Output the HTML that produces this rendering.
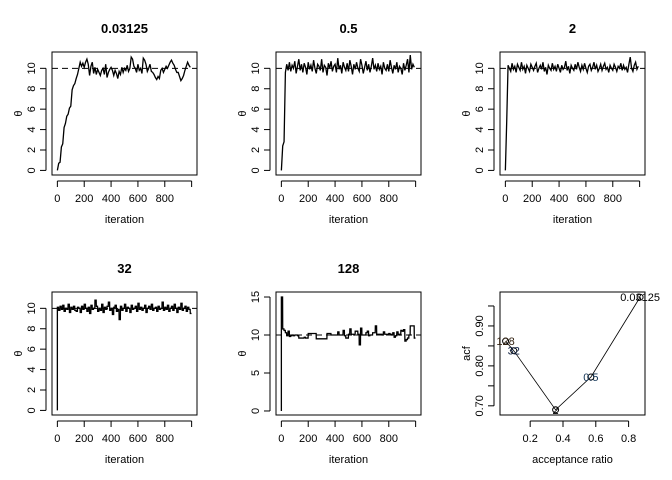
<!DOCTYPE html>
<html><head><meta charset="utf-8"><style>
html,body{margin:0;padding:0;background:#fff}
svg{display:block;font-family:"Liberation Sans",Arial,sans-serif}
</style></head><body>
<svg id="c" width="672" height="480" viewBox="0 0 672 480"></svg>
<script>
const trace1=[0,0.7,0.8,2.3,2.6,4.2,4.6,5.3,5.5,6.1,6.3,7.9,8.3,8.5,9.0,9.4,10.0,10.6,10.2,10.5,10.1,10.6,10.9,10.4,9.3,10.2,10.6,9.5,10.1,9.4,9.9,9.6,9.3,9.8,10.0,9.4,10.4,9.1,9.6,9.9,10.1,9.8,9.3,9.8,9.5,9.0,9.7,9.4,10.1,9.6,10.0,9.8,10.3,9.7,10.0,11.1,10.9,10.2,10.0,9.6,10.4,9.8,10.0,9.5,11.0,10.8,10.4,9.7,10.0,10.4,9.7,9.6,9.4,9.1,8.9,9.2,9.0,9.8,10.0,9.6,9.9,10.2,10.0,10.3,10.6,10.8,10.5,10.3,9.9,9.6,9.6,9.2,8.8,9.0,9.3,9.8,10.2,10.6,10.3,10.1];
const trace2=[0,2.4,2.8,9.6,10.4,9.8,10.6,9.7,10.3,10.0,10.7,9.5,10.2,10.9,9.8,10.4,9.6,10.5,10.1,9.4,10.6,9.9,10.3,9.7,10.8,10.0,9.5,10.4,10.2,9.8,10.9,9.6,10.3,10.1,9.3,10.5,10.0,10.7,9.7,10.2,10.4,9.6,11.0,9.9,10.3,9.5,10.6,10.1,9.8,10.5,9.7,10.8,10.2,9.4,10.4,9.9,10.6,10.0,9.7,10.9,10.3,9.5,10.1,10.7,9.8,10.4,9.6,10.2,11.0,9.9,10.3,9.7,10.5,9.9,10.2,9.4,10.6,10.0,9.8,10.4,9.7,10.8,10.1,9.5,10.3,9.9,10.6,9.6,10.2,10.0,9.4,10.5,9.8,10.3,10.9,9.6,11.3,9.9,10.4,10.1];
const trace3=[0,4.8,10.3,10.0,9.7,10.5,9.9,10.2,9.6,10.4,10.1,9.8,10.6,9.9,10.2,9.5,10.3,10.0,9.7,10.4,10.1,9.8,10.2,10.5,9.6,10.0,10.3,9.9,10.6,9.7,10.1,9.4,10.3,10.0,9.8,10.5,9.9,10.2,9.7,10.4,10.0,9.6,10.3,9.9,10.1,10.7,9.8,10.2,9.5,10.3,10.0,9.8,10.4,9.9,10.6,10.1,9.7,10.3,9.9,10.5,10.0,9.6,10.2,10.4,9.8,10.1,10.6,9.9,10.3,9.7,10.0,10.4,9.8,10.2,10.5,9.9,10.1,9.6,10.3,10.0,9.8,10.4,10.1,9.7,10.2,10.0,10.5,9.8,10.3,9.9,10.1,9.6,10.4,11.1,10.0,9.7,10.3,10.6,9.9,10.2];
const trace4=[10.1,9.8,10.2,9.9,10.3,9.7,10.0,9.9,10.4,9.6,10.1,9.9,10.2,9.8,9.7,10.1,10.0,9.6,10.2,9.9,10.4,10.0,9.7,10.1,9.5,10.3,9.9,10.0,10.8,10.2,9.7,10.0,9.8,10.4,9.6,10.1,9.9,10.2,10.6,9.8,10.0,9.4,10.1,10.3,9.7,9.9,8.9,10.2,9.8,10.0,10.4,9.7,10.1,10.0,9.6,10.3,9.9,10.0,10.2,9.7,10.5,9.9,10.1,9.8,10.0,10.3,9.6,10.0,10.2,9.9,10.4,9.8,10.0,10.1,9.7,10.2,9.9,10.0,10.6,9.8,10.1,9.9,10.3,9.7,10.0,10.2,9.8,10.4,10.0,9.6,10.1,9.9,10.5,9.8,10.0,10.2,9.7,10.1,9.9,9.5];
const trace5=[15,10.8,10.6,10.3,9.9,10.5,9.8,9.9,10.0,9.9,10.0,10.0,9.9,9.6,9.6,9.6,9.6,9.7,9.6,9.6,10.2,10.2,10.2,10.2,10.2,10.2,9.5,9.5,9.5,9.5,9.5,9.5,9.5,9.5,10.2,10.2,10.2,10.0,10.0,10.0,10.0,10.0,10.4,10.0,10.0,10.0,10.6,9.9,9.6,9.6,10.1,10.8,10.1,10.1,10.0,10.5,10.5,10.1,8.7,10.9,10.0,10.0,10.0,10.3,10.5,9.9,10.0,10.0,10.3,10.3,11.2,10.1,10.1,10.1,10.1,10.0,10.4,10.1,10.1,10.1,10.2,10.1,10.0,10.3,9.7,9.9,10.4,10.1,10.0,10.6,10.5,10.7,9.2,9.4,9.6,10.0,11.2,11.2,11.2,9.6];
const trace4Start=0, trace5Start=0;
const accRatio=[0.87,0.57,0.355,0.10,0.05];
const acfVals=[0.972,0.772,0.690,0.838,0.862];
const acfLabels=["0.03125","0.5","2","32","128"];
const acfColors=["#000","#135","#000","#124","#321"];
const titles=["0.03125","0.5","2","32","128"];
const xTicks=[0,200,400,600,800,1000];
const yTicksTheta=[0,2,4,6,8,10];
const yTicks5=[0,5,10,15];
const xTicks6=[0.2,0.4,0.6,0.8];
const yTicks6=[0.70,0.75,0.80,0.85,0.90,0.95];

const svg=document.getElementById('c');
const NS='http://www.w3.org/2000/svg';
function mk(tag,attrs,parent,text){const e=document.createElementNS(NS,tag);for(const k in attrs)e.setAttribute(k,attrs[k]);if(text!==undefined)e.textContent=text;(parent||svg).appendChild(e);return e;}

function panel(idx,col,row,opt){
  const L=52+col*224,R=197+col*224,T=52+row*240,B=175+row*240;
  const g=mk('g',{});
  
  
  const sx=v=>L+(v-opt.x0)/(opt.x1-opt.x0)*(R-L);
  const sy=v=>B-(v-opt.y0)/(opt.y1-opt.y0)*(B-T);
  if(opt.title){const t=mk('text',{x:(L+R)/2,y:T-19,'text-anchor':'middle','font-size':13,'font-weight':'bold'},g,opt.title);
    }
  mk('rect',{x:L,y:T,width:R-L,height:B-T,fill:'none',stroke:'#000','stroke-width':1},g);
  opt.xt.forEach((v,i)=>{const x=sx(v);mk('line',{x1:x,x2:x,y1:B+6,y2:B+12,stroke:'#000'},g);
    if(opt.xl[i]!==null){const t=mk('text',{x:x,y:B+27,'text-anchor':'middle','font-size':11},g,opt.xl[i]);}});
  mk('line',{x1:sx(opt.xt[0]),x2:sx(opt.xt[opt.xt.length-1]),y1:B+6,y2:B+6,stroke:'#000'},g);
  opt.yt.forEach((v,i)=>{const y=sy(v);mk('line',{x1:L-6,x2:L-12,y1:y,y2:y,stroke:'#000'},g);
    if(opt.yl[i]!==null){const t=mk('text',{x:L-17,y:y,'text-anchor':'middle','font-size':11,transform:`rotate(-90 ${L-17} ${y})`},g,opt.yl[i]);}});
  mk('line',{x1:L-6,x2:L-6,y1:sy(opt.yt[0]),y2:sy(opt.yt[opt.yt.length-1]),stroke:'#000'},g);
  const xl=mk('text',{x:(L+R)/2,y:B+48,'text-anchor':'middle','font-size':11},g,opt.xlab);
  
  const yl=mk('text',{x:L-30,y:(T+B)/2,'text-anchor':'middle','font-size':11,transform:`rotate(-90 ${L-30} ${(T+B)/2})`},g,opt.ylab);
  
  return {g,sx,sy,L,R,T,B};
}
function tracePanel(i,col,row,data,step,start,ylim,yt){
  const p=panel(i,col,row,{x0:-40,x1:1040,y0:ylim[0],y1:ylim[1],xt:xTicks,xl:["0","200","400","600","800",null],yt:yt,yl:yt.map(String),xlab:'iteration',ylab:'θ',title:titles[i]});
  const cp='cp'+i;
  const clip=mk('clipPath',{id:cp},p.g);mk('rect',{x:p.L,y:p.T,width:p.R-p.L,height:p.B-p.T},clip);
  let d;
  if(step){
    d=`M${p.sx(0)},${p.sy(start)}`;
    data.forEach((v,k)=>{const x0=k*10,x1=(k+1)*10-1;d+=` L${p.sx(x0)},${p.sy(v)} L${p.sx(x1)},${p.sy(v)}`;});
  } else {
    d=data.map((v,k)=>(k?'L':'M')+p.sx(k*10)+','+p.sy(v)).join(' ');
  }
  const path=mk('path',{d:d,fill:'none',stroke:'#000','stroke-width':1.3,'clip-path':`url(#${cp})`},p.g);
  
  const ref=mk('line',{x1:p.L,x2:p.R,y1:p.sy(10),y2:p.sy(10),stroke:'#000','stroke-dasharray':'6,4'},p.g);
  
}
const yl=[-0.45,11.6];
tracePanel(0,0,0,trace1,false,0,yl,yTicksTheta);
tracePanel(1,1,0,trace2,false,0,yl,yTicksTheta);
tracePanel(2,2,0,trace3,false,0,yl,yTicksTheta);
tracePanel(3,0,1,trace4,true,trace4Start,yl,yTicksTheta);
tracePanel(4,1,1,trace5,true,trace5Start,[-0.53,15.66],yTicks5);

const p6=panel(5,2,1,{x0:0.016,x1:0.9,y0:0.677,y1:0.985,xt:xTicks6,xl:xTicks6.map(v=>v.toFixed(1)),yt:yTicks6,yl:yTicks6.map((v,i)=>i%2===0?v.toFixed(2):null),xlab:'acceptance ratio',ylab:'acf',title:null});
const order=[4,3,2,1,0];
const ld=order.map((k,j)=>(j?'L':'M')+p6.sx(accRatio[k])+','+p6.sy(acfVals[k])).join(' ');
const acfLine=mk('path',{d:ld,fill:'none',stroke:'#000','stroke-width':0.8},p6.g);

accRatio.forEach((a,k)=>{
  const c=mk('circle',{cx:p6.sx(a),cy:p6.sy(acfVals[k]),r:3,fill:'none',stroke:'#000'},p6.g);
  
  const t=mk('text',{x:p6.sx(a),y:p6.sy(acfVals[k])+4,'text-anchor':'middle','font-size':11,fill:acfColors[k]},p6.g,acfLabels[k]);
  
});
</script>
</body></html>
